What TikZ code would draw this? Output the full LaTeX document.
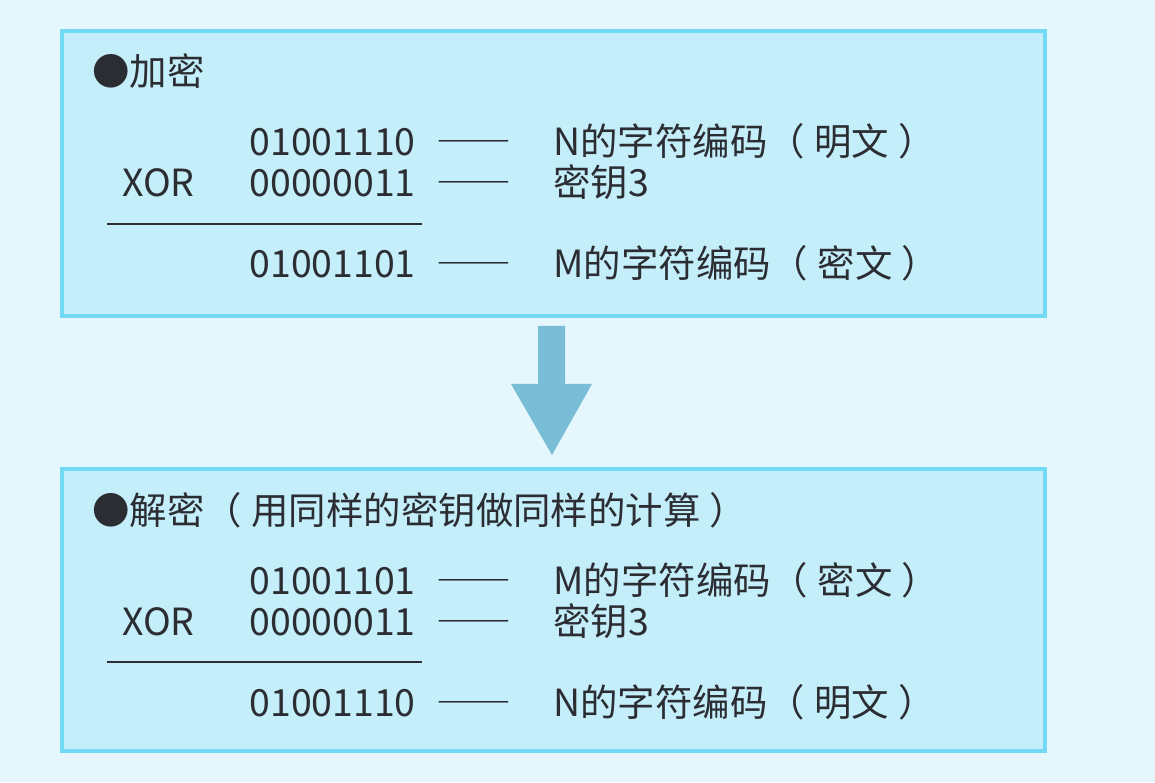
\documentclass[tikz,border=0pt]{standalone}
\usepackage{fontspec}
\setmainfont{Noto Sans CJK SC}
\definecolor{pagebg}{HTML}{E5F7FC}
\definecolor{boxfill}{HTML}{C4EEFA}
\definecolor{boxline}{HTML}{72DAF4}
\definecolor{arrowfill}{HTML}{79BDD6}
\definecolor{ink}{HTML}{2B2D33}
\newcommand{\pgap}{\hspace{0.25em}}
\begin{document}
\begin{tikzpicture}[
        panel/.style={draw=boxline, fill=boxfill, line width=2.3pt},
        txt/.style={inner sep=0pt, text=ink, font=\fontsize{21.3}{26}\selectfont},
        bits/.style={txt, anchor=base east},
        left/.style={txt, anchor=base west},
        rule/.style={draw=ink, line width=1.2pt}
    ]
            \fill[pagebg] (0, 0) rectangle (23.1, 15.64);

            % Encryption
            \draw[panel] (1.24, 9.32) rectangle (20.9, 15.02);
            \node[left] at (1.84, 13.92)   (enc)   {●加密};

            \node[bits] at (8.32, 12.52)   (plain)   {01001110};
            \node[left] at (2.44, 11.70)   (xor)     {XOR};
            \node[bits] at (8.32, 11.70)   (key)     {00000011};
            \node[bits] at (8.32, 10.08)   (cipher)  {01001101};

            \node[left] at (8.72, 12.52)   (d1)  {――};
            \node[left] at (8.72, 11.70)   (d2)  {――};
            \node[left] at (8.72, 10.08)   (d3)  {――};

            \node[left] at (11.06, 12.52)  (plain_l)   {N的字符编码（\pgap 明文\pgap ）};
            \node[left] at (11.06, 11.70)  (key_l)     {密钥3};
            \node[left] at (11.06, 10.08)  (cipher_l)  {M的字符编码（\pgap 密文\pgap ）};

            \coordinate (r1a) at (2.14, 11.16);
            \coordinate (r1b) at (8.44, 11.16);
            \draw[rule] (r1a) -- (r1b);

            % arrow
            \fill[arrowfill] (10.76, 9.12) -- (11.30, 9.12) -- (11.30, 7.96) -- (11.84, 7.96)
                -- (11.04, 6.54) -- (10.22, 7.96) -- (10.76, 7.96) -- cycle;

            % Decryption
            \draw[panel] (1.24, 0.62) rectangle (20.9, 6.26);
            \node[left] at (1.84, 5.16)   (dec)   {●解密（\pgap 用同样的密钥做同样的计算\pgap ）};

            \node[bits] at (8.32, 3.76)   (cipher2)  {01001101};
            \node[left] at (2.44, 2.94)   (xor2)     {XOR};
            \node[bits] at (8.32, 2.94)   (key2)     {00000011};
            \node[bits] at (8.32, 1.32)   (plain2)   {01001110};

            \node[left] at (8.72, 3.76)   (d4)  {――};
            \node[left] at (8.72, 2.94)   (d5)  {――};
            \node[left] at (8.72, 1.32)   (d6)  {――};

            \node[left] at (11.06, 3.76)  (cipher2_l)  {M的字符编码（\pgap 密文\pgap ）};
            \node[left] at (11.06, 2.94)  (key2_l)     {密钥3};
            \node[left] at (11.06, 1.32)  (plain2_l)   {N的字符编码（\pgap 明文\pgap ）};

            \coordinate (r2a) at (2.14, 2.40);
            \coordinate (r2b) at (8.44, 2.40);
            \draw[rule] (r2a) -- (r2b);
\end{tikzpicture}
\end{document}
